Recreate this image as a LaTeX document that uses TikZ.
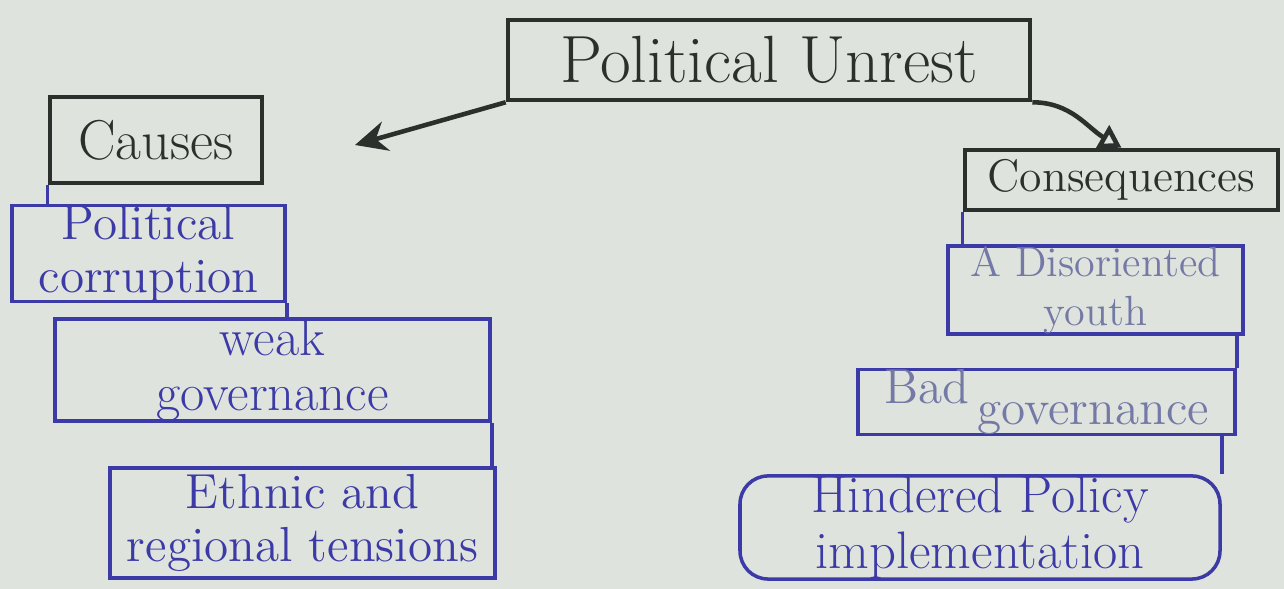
\documentclass[tikz,border=0pt]{standalone}
\usepackage{tikz}
\usetikzlibrary{positioning, calc, arrows.meta}
\definecolor{paper}{HTML}{DFE3DD}
\definecolor{pen}{HTML}{2B302D}
\definecolor{ink}{HTML}{3C3AA6}
\definecolor{faded}{HTML}{7479A6}
\begin{document}
\begin{tikzpicture}[
    head/.style={draw=pen, line width=1.3pt, text=pen, inner sep=0pt, align=center},
    item/.style={draw=ink, line width=1pt, text=ink, inner sep=0pt, align=center, font=\fontsize{14}{15}\selectfont},
    link/.style={draw=ink, line width=1pt},
  ]
      \fill[paper] (0,0) rectangle (12.84,5.89);
      \useasboundingbox (0,0) rectangle (12.84,5.89);

      \node[head, minimum width=5.22cm, minimum height=0.80cm, font=\fontsize{19}{20}\selectfont] (Unrest) at (7.69,5.29) {Political Unrest};
      \node[head, minimum width=2.12cm, minimum height=0.86cm, font=\fontsize{16}{17}\selectfont] (Causes) at (1.56,4.49) {Causes};
      \node[head, minimum width=3.13cm, minimum height=0.60cm, font=\fontsize{13}{14}\selectfont] (Consq) at (11.215,4.09) {Consequences};
      \coordinate (CausesTip) at (3.55,4.44);

      \node[item, minimum width=2.73cm, minimum height=0.93cm] (Corruption) at (1.485,3.355) {Political\\corruption};
      \node[item, minimum width=4.35cm, minimum height=0.90cm, font=\fontsize{15}{15.5}\selectfont] (Weak) at (2.725,2.19) {weak\\governance};
      \node[item, minimum width=3.85cm, minimum height=1.10cm] (Ethnic) at (3.025,0.66) {Ethnic and\\regional tensions};

      \node[item, text=faded, minimum width=2.95cm, minimum height=0.84cm, font=\fontsize{12}{14}\selectfont] (Youth) at (10.955,2.99) {A Disoriented\\youth};
      \node[item, text=faded, minimum width=3.77cm, minimum height=0.60cm, font=\fontsize{14}{14}\selectfont] (BadGov) at (10.465,1.87) {\raisebox{0.6ex}{Bad}\,\raisebox{-0.4ex}{governance}};
      \node[item, rounded corners=8pt, minimum width=4.80cm, minimum height=0.95cm, font=\fontsize{15}{16}\selectfont] (Hindered) at (9.80,0.615) {Hindered Policy\\implementation};

      \draw[pen, line width=1.3pt, -{Stealth[length=3.2mm, width=3mm]}] (Unrest.south west) -- (CausesTip);
      \draw[pen, line width=1.3pt, -{Triangle[open, length=2.2mm, width=2.6mm]}] (Unrest.south east) to[out=0, in=150] (Consq.north);

      \draw[link] (Causes.south west) -- (Causes.south west |- Corruption.north);
      \draw[link] (Corruption.south east) -- (Corruption.south east |- Weak.north);
      \draw[link] (Weak.south east) -- (Weak.south east |- Ethnic.north);

      \draw[link] (Consq.south west) -- (Consq.south west |- Youth.north);
      \draw[link] (BadGov.north east) -- (BadGov.north east |- Youth.south);
      \draw[link] (Hindered.north east) -- (Hindered.north east |- BadGov.south);
    \end{tikzpicture}
\end{document}
